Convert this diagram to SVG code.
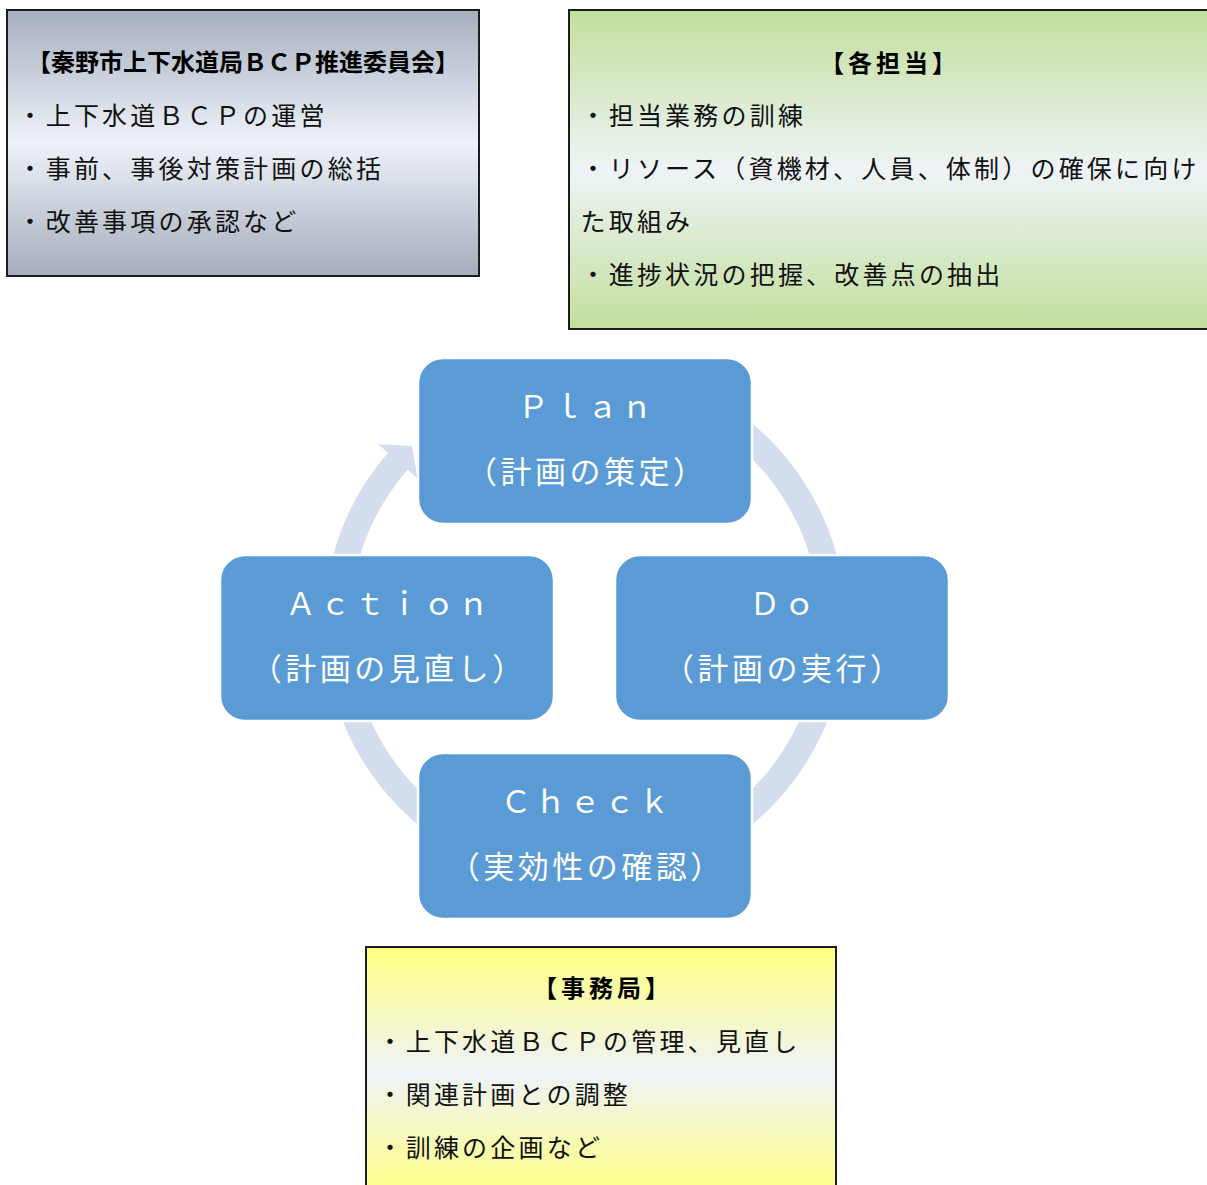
<svg xmlns="http://www.w3.org/2000/svg" width="1207" height="1185" viewBox="0 0 1207 1185">
  <defs>
    <linearGradient id="gGray" x1="0" y1="0" x2="0" y2="1">
      <stop offset="0" stop-color="#a6afbf"/>
      <stop offset="0.5" stop-color="#eef2f9"/>
      <stop offset="1" stop-color="#a4adbc"/>
    </linearGradient>
    <linearGradient id="gGreen" x1="0" y1="0" x2="0" y2="1">
      <stop offset="0" stop-color="#c2df9c"/>
      <stop offset="0.5" stop-color="#eef3f7"/>
      <stop offset="1" stop-color="#c2df9c"/>
    </linearGradient>
    <linearGradient id="gYellow" x1="0" y1="0" x2="0" y2="1">
      <stop offset="0" stop-color="#ffff80"/>
      <stop offset="0.5" stop-color="#eef3f8"/>
      <stop offset="1" stop-color="#ffff80"/>
    </linearGradient>
  </defs>
  <style>
    text { font-family: "Noto Sans CJK JP", "Noto Sans", sans-serif; text-spacing-trim: space-all; }
    .panel { stroke: #1c1c1c; stroke-width: 2; }
    .ttl { font-size: 24px; font-weight: bold; fill: #000; text-anchor: middle; }
    .ln { font-size: 25px; fill: #111; letter-spacing: 3.2px; }
    .node { fill: #5b9bd5; stroke: #ffffff; stroke-width: 2.5; }
    .nt { font-size: 31px; fill: #ffffff; text-anchor: middle; letter-spacing: 3.5px; }
    .ring { fill: none; stroke: #d3ddee; stroke-width: 26; }
  </style>

  <g id="committee">
    <rect class="panel" x="7" y="10" width="472" height="266" fill="url(#gGray)"/>
    <text class="ttl" x="243" y="71">【秦野市上下水道局ＢＣＰ推進委員会】</text>
    <text class="ln" x="17.5" y="125">・上下水道ＢＣＰの運営</text>
    <text class="ln" x="17.5" y="178">・事前、事後対策計画の総括</text>
    <text class="ln" x="17.5" y="231">・改善事項の承認など</text>
  </g>

  <g id="tanto">
    <rect class="panel" x="569" y="10" width="642" height="319" fill="url(#gGreen)"/>
    <text class="ttl" x="890" y="72" letter-spacing="4">【各担当】</text>
    <text class="ln" x="580.5" y="125">・担当業務の訓練</text>
    <text class="ln" x="580.5" y="178">・リソース（資機材、人員、体制）の確保に向け</text>
    <text class="ln" x="580.5" y="231">た取組み</text>
    <text class="ln" x="580.5" y="284">・進捗状況の把握、改善点の抽出</text>
  </g>

  <g id="jimukyoku">
    <rect class="panel" x="366" y="947" width="470" height="250" fill="url(#gYellow)"/>
    <text class="ttl" x="603" y="997" letter-spacing="4">【事務局】</text>
    <text class="ln" x="377.5" y="1051">・上下水道ＢＣＰの管理、見直し</text>
    <text class="ln" x="377.5" y="1104">・関連計画との調整</text>
    <text class="ln" x="377.5" y="1157">・訓練の企画など</text>
  </g>

  <g id="connectors">
    <path class="ring" d="M 709 409.2 A 248 248 0 0 1 829.2 580.9"/>
    <path class="ring" d="M 827.6 675.6 A 248 248 0 0 1 709 838.8"/>
    <path class="ring" d="M 461 838.8 A 248 248 0 0 1 342.4 675.6"/>
    <path fill="#d3ddee" d="M 326.5 587.7 A 261 261 0 0 1 388 452.8 L 378.2 444.2 L 412 446 L 417.5 478.4 L 407.6 469.8 A 235 235 0 0 0 352.3 591.3 Z"/>
  </g>

  <g id="plan">
    <rect class="node" x="418" y="358" width="334" height="166" rx="25"/>
    <text class="nt" x="586.75" y="418">Ｐｌａｎ</text>
    <text class="nt" x="586.75" y="483">（計画の策定）</text>
  </g>
  <g id="do">
    <rect class="node" x="615" y="555" width="334" height="166" rx="25"/>
    <text class="nt" x="783.75" y="615">Ｄｏ</text>
    <text class="nt" x="783.75" y="680">（計画の実行）</text>
  </g>
  <g id="action">
    <rect class="node" x="220" y="555" width="334" height="166" rx="25"/>
    <text class="nt" x="388.75" y="615">Ａｃｔｉｏｎ</text>
    <text class="nt" x="388.75" y="680">（計画の見直し）</text>
  </g>
  <g id="check">
    <rect class="node" x="418" y="753" width="334" height="166" rx="25"/>
    <text class="nt" x="586.75" y="813">Ｃｈｅｃｋ</text>
    <text class="nt" x="586.75" y="878">（実効性の確認）</text>
  </g>
</svg>
